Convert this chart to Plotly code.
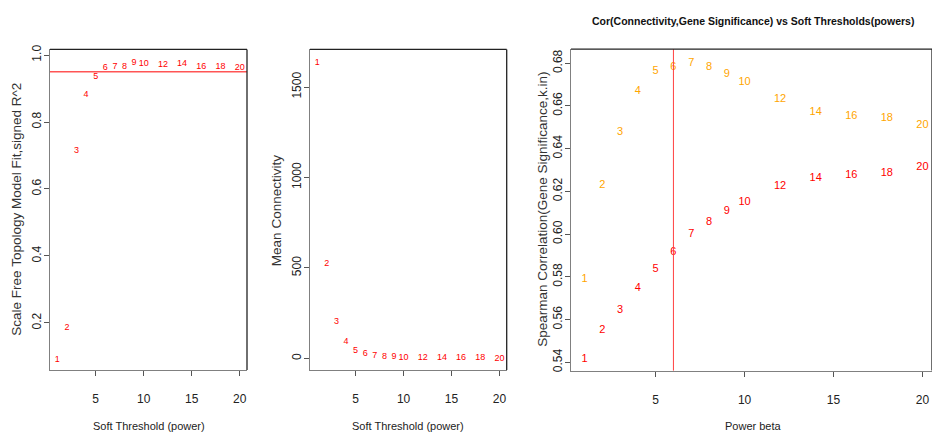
import plotly.graph_objects as go

powers = [1, 2, 3, 4, 5, 6, 7, 8, 9, 10, 12, 14, 16, 18, 20]
power_labels = [str(p) for p in powers]
sft_r2 = [0.089, 0.184, 0.714, 0.881, 0.936, 0.963, 0.966, 0.966, 0.976, 0.975,
          0.971, 0.973, 0.966, 0.966, 0.961]
mean_k = [1632, 521, 205, 90, 41, 25, 16, 10, 7, 5, 2.5, 1.5, 1, 0.6, 0.4]
cor_orange = [0.579, 0.623, 0.6475, 0.667, 0.676, 0.678, 0.680, 0.678, 0.675, 0.671,
              0.663, 0.657, 0.655, 0.654, 0.651]
cor_red = [0.5414, 0.555, 0.5645, 0.5746, 0.5834, 0.5914, 0.600, 0.6057, 0.6106, 0.615,
           0.6226, 0.6261, 0.6275, 0.6284, 0.6315]
r2_cut = 0.95
chosen_power = 6

x_ticks = [5, 10, 15, 20]
y1_ticks = [0.2, 0.4, 0.6, 0.8, 1.0]
y1_ticktext = ["0.2", "0.4", "0.6", "0.8", "1.0"]
y2_ticks = [0, 500, 1000, 1500]
y3_ticks = [0.54, 0.56, 0.58, 0.60, 0.62, 0.64, 0.66, 0.68]
y3_ticktext = ["0.54", "0.56", "0.58", "0.60", "0.62", "0.64", "0.66", "0.68"]

W, H = 932, 438
NARROW = "Liberation Sans Narrow, Liberation Sans, Arial"
SANS = "Liberation Sans, Arial"
RED = "#ff0000"
ORANGE = "#ffa500"

def px(x):
    return x / W

def py(y):
    return 1 - y / H

fig = go.Figure()

fig.add_trace(go.Scatter(x=powers, y=sft_r2, text=power_labels, mode="text",
                         textfont=dict(color=RED, size=9, family=NARROW),
                         xaxis="x", yaxis="y", showlegend=False, hoverinfo="skip"))
fig.add_trace(go.Scatter(x=powers, y=mean_k, text=power_labels, mode="text",
                         textfont=dict(color=RED, size=9, family=NARROW),
                         xaxis="x2", yaxis="y2", showlegend=False, hoverinfo="skip"))
fig.add_trace(go.Scatter(x=powers, y=cor_orange, text=power_labels, mode="text",
                         textfont=dict(color=ORANGE, size=11, family=NARROW),
                         xaxis="x3", yaxis="y3", showlegend=False, hoverinfo="skip"))
fig.add_trace(go.Scatter(x=powers, y=cor_red, text=power_labels, mode="text",
                         textfont=dict(color=RED, size=11, family=NARROW),
                         xaxis="x3", yaxis="y3", showlegend=False, hoverinfo="skip"))

top, bot = 45, 370
common_x = dict(showgrid=False, zeroline=False, showline=True, linecolor="#808080",
                linewidth=1, ticks="outside", ticklen=5, tickcolor="#555",
                tickvals=x_ticks, tickfont=dict(family=NARROW, size=12, color="#222"),
                ticklabelstandoff=13)
common_y = dict(showgrid=False, zeroline=False, showline=True, linecolor="#808080",
                linewidth=1, ticks="outside", ticklen=5, tickcolor="#555",
                tickangle=-90, tickfont=dict(family=SANS, size=12, color="#222"),
                ticklabelstandoff=-2)

fig.update_layout(
    width=W, height=H, margin=dict(l=0, r=0, t=0, b=0),
    plot_bgcolor="white", paper_bgcolor="white",
    xaxis=dict(common_x, domain=[px(50), px(247)], range=[0.24, 20.76], anchor="y"),
    yaxis=dict(common_y, domain=[py(bot), py(top)], range=[0.0595, 1.017], anchor="x",
               tickvals=y1_ticks, ticktext=y1_ticktext),
    xaxis2=dict(common_x, domain=[px(310), px(506.7)], range=[0.24, 20.76], anchor="y2"),
    yaxis2=dict(common_y, domain=[py(bot), py(top)], range=[-64, 1708], anchor="x2",
                tickvals=y2_ticks),
    xaxis3=dict(common_x, domain=[px(571), 1.0], range=[0.24, 20.54], anchor="y3"),
    yaxis3=dict(common_y, domain=[py(370.7), py(44.7)], range=[0.5361, 0.6866], anchor="x3",
                tickvals=y3_ticks, ticktext=y3_ticktext),
)

# cut-off lines
fig.add_shape(type="line", xref="x domain", yref="y", x0=0, x1=1, y0=r2_cut, y1=r2_cut,
              line=dict(color="#ff5555", width=1.5))
fig.add_shape(type="line", xref="x3", yref="y3 domain", x0=chosen_power, x1=chosen_power,
              y0=0, y1=1, line=dict(color="#ff4040", width=1))

# box top/right borders
for xd, yd in [("x domain", "y domain"), ("x2 domain", "y2 domain"), ("x3 domain", "y3 domain")]:
    fig.add_shape(type="line", xref=xd, yref=yd, x0=0, x1=1, y0=1, y1=1,
                  line=dict(color="#222", width=1.3))
    fig.add_shape(type="line", xref=xd, yref=yd, x0=1, x1=1, y0=0, y1=1,
                  line=dict(color="#222", width=1.3))

anns = [
    dict(text="Soft Threshold (power)", x=px(149), y=py(427)),
    dict(text="Soft Threshold (power)", x=px(408), y=py(427)),
    dict(text="Power beta", x=px(753), y=py(427)),
]
for a in anns:
    fig.add_annotation(xref="paper", yref="paper", showarrow=False,
                       font=dict(family=NARROW, size=11, color="#222"),
                       xanchor="center", yanchor="middle", **a)

yanns = [
    dict(text="Scale Free Topology Model Fit,signed R^2", x=px(17), y=py(207.5)),
    dict(text="Mean Connectivity", x=px(276), y=py(209)),
    dict(text="Spearman Correlation(Gene Significance,k.in)", x=px(543), y=py(207.7)),
]
for a in yanns:
    fig.add_annotation(xref="paper", yref="paper", showarrow=False, textangle=-90,
                       font=dict(family=SANS, size=13.5, color="#333"),
                       xanchor="center", yanchor="middle", **a)

fig.add_annotation(xref="paper", yref="paper", showarrow=False,
                   text="<b>Cor(Connectivity,Gene Significance) vs Soft Thresholds(powers)</b>",
                   x=px(753), y=py(16), xanchor="center", yanchor="middle",
                   font=dict(family=NARROW, size=10.5, color="#111"))

fig.write_html("out.html", config={"displayModeBar": False},
               post_script="document.body.style.margin='0';document.body.style.overflow='hidden';")
